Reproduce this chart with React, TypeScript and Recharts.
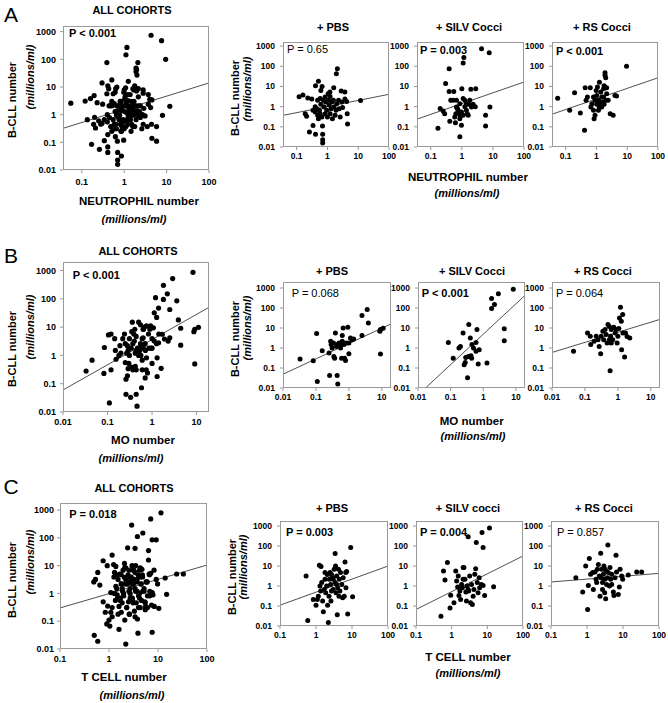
import { ScatterChart, Scatter, XAxis, YAxis, ReferenceLine } from 'recharts';

type Pt = [number, number];

const FONT = '"Liberation Sans", Arial, Helvetica, sans-serif';

const yTicks = [0.01, 0.1, 1, 10, 100, 1000];
const neutTicks = [0.1, 1, 10, 100];
const moTicks = [0.01, 0.1, 1, 10];
const tcellTicks = [0.1, 1, 10, 100];

// A: neutrophils
const neutPbs: Pt[] = [
  [0.12, 3.1], [0.16, 3.8], [0.23, 2.7], [0.31, 2.4], [0.19, 0.45], [0.21, 0.33], [0.26, 0.056], [0.34, 0.115],
  [0.41, 0.043], [0.51, 18], [0.41, 11], [0.61, 6.4], [0.67, 10], [0.69, 0.11], [0.7, 0.043], [0.7, 0.023],
  [0.7, 0.016], [2.1, 76], [1.95, 43], [1.6, 8.7], [1.2, 5.3], [1.05, 4.4], [2.8, 6], [3.7, 5.3], [3.7, 2.4],
  [4.2, 1.8], [4.4, 0.45], [4.5, 0.14], [11.9, 2.0], [0.4, 0.55], [0.45, 0.79], [0.48, 0.37], [0.51, 0.25],
  [0.55, 0.66], [0.58, 0.45], [0.61, 1.3], [0.66, 0.31], [0.74, 2.1], [0.78, 0.96], [0.84, 0.45], [0.88, 1.7],
  [0.95, 0.66], [1.0, 0.31], [1.08, 2.1], [1.13, 1.2], [1.22, 0.45], [1.31, 0.79], [1.38, 1.7], [1.45, 0.25],
  [1.56, 2.1], [1.64, 0.96], [1.77, 0.37], [1.9, 0.66], [2.0, 1.4], [2.3, 2.1], [2.4, 0.79], [2.6, 0.31],
  [2.9, 1.7], [3.1, 0.9], [0.48, 2.1], [0.58, 2.5], [0.84, 3.0], [1.22, 3.2], [0.4, 1.0], [0.34, 0.66],
];
const neutSilv: Pt[] = [
  [0.17, 0.085], [0.2, 0.8], [0.25, 0.6], [0.28, 0.45], [0.3, 14], [0.39, 76], [0.39, 5.7], [0.55, 5.7],
  [0.41, 0.19], [0.44, 2.1], [0.52, 2.1], [0.59, 0.31], [0.62, 0.16], [0.67, 2.1], [0.82, 0.45], [0.86, 0.032],
  [0.9, 0.33], [0.97, 0.12], [1.0, 7.8], [1.1, 2.5], [1.16, 270], [1.1, 145], [1.25, 1.0], [1.4, 0.66],
  [1.6, 0.37], [1.7, 1.3], [1.95, 7.2], [2.8, 7.8], [2.05, 0.96], [2.3, 1.3], [2.7, 1.0], [4.3, 740],
  [7.6, 470], [5.8, 0.37], [5.8, 0.11], [8.0, 0.95], [0.67, 0.96], [0.76, 0.66], [0.86, 1.4], [0.97, 0.55],
  [1.1, 0.37], [1.25, 2.1], [1.4, 1.3], [0.86, 0.25], [1.5, 0.45], [0.64, 0.45], [0.72, 0.8], [1.8, 2.1],
];
const neutRs: Pt[] = [
  [0.055, 2.6], [0.135, 0.66], [0.195, 4.9], [0.3, 0.49], [0.41, 0.068], [0.43, 8.7], [0.46, 2.1], [0.51, 3.0],
  [0.63, 8.7], [0.66, 0.96], [0.71, 1.4], [0.8, 0.66], [0.84, 0.25], [0.9, 0.37], [0.98, 6.4], [1.02, 3.6],
  [1.08, 9.4], [1.16, 2.1], [1.25, 16], [1.3, 1.04], [1.38, 5.3], [1.49, 3.0], [1.6, 1.7], [1.7, 7.8],
  [1.77, 11], [1.9, 36], [2.0, 27], [1.9, 48], [2.15, 4.4], [2.4, 2.1], [2.8, 0.45], [3.5, 0.37], [4.0, 3.6],
  [4.5, 3.4], [9.5, 100], [0.8, 3.0], [0.9, 2.1], [1.16, 0.66], [1.3, 1.7], [1.49, 0.96], [2.05, 2.1],
  [1.77, 1.3], [2.15, 8.7], [1.7, 3.0], [1.25, 0.9], [1.02, 1.3],
];

// B: monocytes
const moPbs: Pt[] = [
  [0.033, 0.28], [0.083, 0.23], [0.105, 5.3], [0.11, 0.021], [0.155, 0.73], [0.25, 0.56], [0.26, 0.042],
  [0.28, 2.2], [0.29, 1.5], [0.31, 1.0], [0.34, 1.8], [0.35, 0.38], [0.37, 0.31], [0.39, 5.7], [0.42, 1.2],
  [0.44, 0.042], [0.46, 0.016], [0.5, 1.8], [0.53, 1.5], [0.56, 1.0], [0.6, 0.31], [0.63, 4.2], [0.67, 10],
  [0.71, 1.5], [0.74, 0.31], [0.79, 0.24], [0.85, 1.8], [0.93, 11], [1.0, 0.52], [1.12, 3.2], [1.26, 2.6],
  [1.4, 2.8], [1.0, 1.8], [2.5, 4.2], [2.5, 42], [3.6, 85], [3.9, 18], [9.1, 8.4], [11, 9.8], [9.1, 0.5],
  [8.7, 6.9], [0.63, 2.2], [0.44, 1.5],
];
const moSilv: Pt[] = [
  [0.085, 1.9], [0.12, 0.31], [0.18, 1.0], [0.2, 1.2], [0.24, 5.7], [0.26, 0.145], [0.28, 0.19], [0.29, 0.34],
  [0.33, 0.033], [0.36, 15], [0.35, 0.38], [0.4, 3.2], [0.42, 0.41], [0.44, 0.31], [0.45, 1.5], [0.5, 1.0],
  [0.6, 1.9], [0.64, 8.4], [0.7, 0.16], [0.75, 0.82], [0.6, 0.68], [1.3, 0.18], [1.8, 95], [1.8, 300],
  [2.2, 150], [2.9, 520], [8.3, 860], [4.4, 9.1], [4.4, 2.3],
];
const moRs: Pt[] = [
  [0.045, 0.68], [0.12, 5.7], [0.145, 3.9], [0.15, 1.5], [0.19, 2.2], [0.22, 3.9], [0.25, 2.6], [0.27, 1.2],
  [0.3, 0.52], [0.31, 3.9], [0.35, 6.9], [0.37, 2.6], [0.41, 8.4], [0.44, 4.7], [0.47, 1.8], [0.5, 15],
  [0.55, 12], [0.6, 3.9], [0.63, 8.4], [0.7, 2.6], [0.75, 11], [0.58, 0.072], [0.83, 5.7], [0.89, 8.4],
  [0.95, 1.8], [1.0, 3.9], [1.07, 9.4], [1.12, 32], [1.2, 110], [1.27, 22], [1.4, 47], [1.42, 5.7],
  [1.3, 0.82], [1.6, 0.35], [1.7, 5.6], [1.9, 3.8], [2.3, 3.2], [0.63, 1.8], [0.55, 2.6],
];

// C: T cells
const tcPbs: Pt[] = [
  [0.59, 0.019], [0.53, 3.2], [0.84, 0.21], [1.0, 0.11], [1.09, 0.21], [1.16, 0.31], [1.24, 11], [1.38, 9.4],
  [1.29, 1.0], [1.35, 0.56], [1.44, 1.5], [1.53, 0.18], [1.6, 0.051], [1.7, 0.68], [1.78, 2.2], [1.86, 0.46],
  [1.98, 1.0], [2.06, 3.8], [2.1, 0.11], [2.2, 0.015], [2.3, 0.31], [2.35, 2.2], [2.45, 4.7], [2.55, 1.2],
  [2.6, 0.18], [2.7, 0.56], [2.9, 2.6], [3.0, 0.68], [3.2, 6.9], [3.4, 42], [3.4, 1.5], [3.5, 10], [3.6, 0.46],
  [3.75, 3.2], [3.9, 0.037], [4.0, 0.82], [4.2, 6.9], [4.35, 0.31], [4.45, 2.2], [4.6, 0.56], [4.8, 4.7],
  [5.2, 1.2], [5.5, 0.26], [5.7, 2.6], [6.1, 0.31], [6.4, 16], [6.7, 4.7], [6.8, 0.82], [7.1, 5.3],
  [7.6, 0.04], [9.2, 85], [10.4, 0.29], [1.78, 4.7], [2.7, 3.8], [3.75, 1.2], [3.0, 2.2],
];
const tcSilv: Pt[] = [
  [0.5, 0.031], [0.59, 5.7], [0.65, 2.0], [0.76, 15], [0.9, 0.08], [0.94, 0.35], [1.16, 0.145], [1.3, 5.7],
  [1.38, 1.8], [1.47, 0.89], [1.6, 0.34], [1.7, 0.56], [1.78, 0.21], [1.9, 1.2], [2.0, 0.82], [2.1, 8.4],
  [2.2, 8.4], [2.35, 2.2], [2.5, 0.5], [2.6, 0.18], [2.7, 1.0], [2.9, 290], [3.0, 0.56], [3.2, 3.2],
  [3.4, 0.145], [3.6, 1.2], [3.8, 0.12], [4.0, 0.31], [4.2, 0.68], [4.45, 3.9], [4.7, 7.4], [4.9, 150],
  [5.2, 1.5], [5.5, 0.46], [5.9, 2.6], [6.1, 0.82], [6.8, 1.2], [7.1, 480], [7.6, 85], [7.6, 1.07],
  [8.4, 0.34], [11.5, 800], [15, 0.93], [1.53, 3.2], [2.1, 2.2], [2.9, 0.68],
];
const tcRs: Pt[] = [
  [0.49, 2.6], [0.76, 0.5], [0.92, 10], [1.04, 0.067], [1.09, 1.07], [1.16, 24], [1.26, 3.9], [1.44, 4.7],
  [1.5, 0.68], [1.67, 5.0], [1.78, 2.2], [1.94, 6.9], [2.07, 12], [2.3, 0.31], [2.4, 44], [2.45, 2.6],
  [2.55, 6.9], [2.7, 1.5], [2.7, 0.68], [2.85, 3.9], [2.95, 10], [3.1, 0.46], [3.15, 2.2], [3.3, 0.23],
  [3.4, 5.7], [3.5, 1.2], [3.7, 2.6], [3.8, 112], [3.9, 4.7], [4.2, 1.0], [4.35, 8.4], [4.55, 2.2],
  [4.85, 3.9], [5.4, 0.5], [5.6, 0.34], [6.0, 2.6], [6.4, 35], [6.6, 5.0], [7.4, 0.38], [7.9, 0.89],
  [8.3, 6.9], [9.2, 3.2], [9.8, 2.2], [14, 3.6], [24, 5.0], [33, 5.0], [1.86, 1.5], [2.2, 3.2], [3.15, 6.9],
  [4.85, 1.2],
];

// regression line end points
const neutAllFit: Pt[] = [[0.036, 0.32], [100, 14]];
const neutPbsFit: Pt[] = [[0.036, 0.37], [100, 4.1]];
const neutSilvFit: Pt[] = [[0.036, 0.24], [100, 16.6]];
const neutRsFit: Pt[] = [[0.036, 0.42], [100, 27]];
const moAllFit: Pt[] = [[0.01, 0.06], [19, 50]];
const moPbsFit: Pt[] = [[0.01, 0.049], [19, 16]];
const moSilvFit: Pt[] = [[0.017, 0.01], [19, 430]];
const moRsFit: Pt[] = [[0.01, 0.6], [19, 27]];
const tcAllFit: Pt[] = [[0.1, 0.3], [100, 10.5]];
const tcPbsFit: Pt[] = [[0.1, 0.11], [100, 10]];
const tcSilvFit: Pt[] = [[0.1, 0.067], [100, 32]];
const tcRsFit: Pt[] = [[0.1, 1.6], [100, 4.3]];

const fmt = (v: number) => String(v);

type PlotProps = {
  box: [number, number, number, number];
  xDomain: [number, number];
  yMax: number;
  xTicks: number[];
  pts: Pt[];
  fit: Pt[];
  yGap: number;
  xGap: number;
  big?: boolean;
};

function Plot({ box, xDomain, yMax, xTicks, pts, fit, yGap, xGap, big = false }: PlotProps) {
  const yw = 44;
  const m = 6;
  const mr = 16; // room for the last x tick label
  const xh = 26;
  const [x, y, w, h] = box;
  const data = pts.map(([a, b]) => ({ x: a, y: b }));
  const r = big ? 2.6 : 2.5;
  const tickStyle = {
    fontSize: big ? 9 : 8.5,
    fontWeight: 700,
    fill: '#000',
    fontFamily: FONT,
    style: { fontWeight: 700 },
  };
  return (
    <div style={{ position: 'absolute', left: x - yw, top: y - m }}>
      <ScatterChart width={yw + w + mr} height={m + h + xh} margin={{ top: m, right: mr, bottom: 0, left: 0 }}>
        <XAxis
          type="number"
          dataKey="x"
          scale="log"
          domain={xDomain}
          allowDataOverflow
          ticks={xTicks}
          interval={0}
          tickFormatter={fmt}
          axisLine={false}
          tickSize={3}
          tickMargin={xGap}
          tickLine={{ stroke: '#999' }}
          tick={tickStyle}
          height={xh}
        />
        <YAxis
          type="number"
          dataKey="y"
          scale="log"
          domain={[0.01, yMax]}
          allowDataOverflow
          ticks={yTicks}
          interval={0}
          tickFormatter={fmt}
          axisLine={false}
          tickSize={3}
          tickMargin={yGap}
          tickLine={{ stroke: '#999' }}
          tick={tickStyle}
          width={yw}
        />
        <ReferenceLine
          segment={[{ x: fit[0][0], y: fit[0][1] }, { x: fit[1][0], y: fit[1][1] }]}
          stroke="#222"
          strokeWidth={0.8}
          ifOverflow="visible"
        />
        <Scatter
          data={data}
          isAnimationActive={false}
          shape={(p: any) => <circle cx={p.cx} cy={p.cy} r={r} fill="#000" />}
        />
      </ScatterChart>
      <div style={{
        position: 'absolute',
        left: yw,
        top: m,
        width: w,
        height: h,
        border: '1px solid #9a9a9a',
        boxSizing: 'border-box',
        pointerEvents: 'none',
      }} />
    </div>
  );
}

type TxtProps = {
  x: number;
  y: number;
  text: string;
  size?: number;
  bold?: boolean;
  italic?: boolean;
  vertical?: boolean;
  left?: boolean;
};

function Txt({ x, y, text, size = 11, bold = true, italic = false, vertical = false, left = false }: TxtProps) {
  const transform = left
    ? 'translateY(-50%)'
    : vertical
      ? 'translate(-50%, -50%) rotate(-90deg)'
      : 'translate(-50%, -50%)';
  return (
    <div style={{
      position: 'absolute',
      left: x,
      top: y,
      transform,
      fontFamily: FONT,
      fontSize: size,
      fontWeight: bold ? 700 : 400,
      fontStyle: italic ? 'italic' : 'normal',
      whiteSpace: 'nowrap',
      lineHeight: 1,
      color: '#000',
    }}>
      {text}
    </div>
  );
}

function AxisTitles({ bx, by, mx, my, name, nx, ny, ix, iy }: {
  bx: number; by: number; mx: number; my: number; name: string; nx: number; ny: number; ix: number; iy: number;
}) {
  return (
    <>
      <Txt x={bx} y={by} text="B-CLL number" size={11} vertical />
      <Txt x={mx} y={my} text="(millions/ml)" size={11} vertical italic />
      <Txt x={nx} y={ny} text={name} size={11.5} />
      <Txt x={ix} y={iy} text="(millions/ml)" size={11} italic />
    </>
  );
}

export default function App() {
  const neutAll = [...neutPbs, ...neutSilv, ...neutRs];
  const moAll = [...moPbs, ...moSilv, ...moRs];
  const tcAll = [...tcPbs, ...tcSilv, ...tcRs];
  const nD: [number, number] = [0.036, 100];
  const mD: [number, number] = [0.01, 19];
  const tD: [number, number] = [0.1, 100];

  return (
    <div style={{ position: 'absolute', left: 0, top: 0, width: 668, height: 703, background: '#fff', overflow: 'hidden' }}>
      {/* Row A */}
      <Txt x={11} y={14} text="A" size={21} bold={false} />
      <Txt x={132} y={10} text="ALL COHORTS" size={11} />
      <Txt x={333} y={27} text="+ PBS" size={11} />
      <Txt x={469} y={27} text="+ SILV Cocci" size={11} />
      <Txt x={602} y={27} text="+ RS Cocci" size={11} />
      <Plot big box={[63, 26, 146, 144]} xDomain={nD} yMax={1600} xTicks={neutTicks} pts={neutAll} fit={neutAllFit} yGap={4} xGap={6} />
      <Plot box={[283, 42, 106, 105]} xDomain={nD} yMax={1600} xTicks={neutTicks} pts={neutPbs} fit={neutPbsFit} yGap={5} xGap={3} />
      <Plot box={[417, 42, 107, 105]} xDomain={nD} yMax={1600} xTicks={neutTicks} pts={neutSilv} fit={neutSilvFit} yGap={5} xGap={3} />
      <Plot box={[552, 42, 106, 105]} xDomain={nD} yMax={1600} xTicks={neutTicks} pts={neutRs} fit={neutRsFit} yGap={5} xGap={3} />
      <Txt x={69} y={32.5} text="P < 0.001" size={11} left />
      <Txt x={287} y={49} text="P = 0.65" size={11} bold={false} left />
      <Txt x={420} y={50} text="P = 0.003" size={11} left />
      <Txt x={556} y={51} text="P < 0.001" size={11} left />
      <AxisTitles bx={12} by={100} mx={30} my={77} name="NEUTROPHIL number" nx={139} ny={202} ix={134} iy={219} />
      <AxisTitles bx={235} by={98} mx={247} my={89} name="NEUTROPHIL number" nx={468} ny={178} ix={467} iy={193} />

      {/* Row B */}
      <Txt x={11} y={255} text="B" size={21} bold={false} />
      <Txt x={138} y={251} text="ALL COHORTS" size={11} />
      <Txt x={332} y={271} text="+ PBS" size={11} />
      <Txt x={472} y={271} text="+ SILV Cocci" size={11} />
      <Txt x={603} y={271} text="+ RS Cocci" size={11} />
      <Plot big box={[63, 262, 146, 150]} xDomain={mD} yMax={2000} xTicks={moTicks} pts={moAll} fit={moAllFit} yGap={4} xGap={4} />
      <Plot box={[283, 282, 108, 106]} xDomain={mD} yMax={2000} xTicks={moTicks} pts={moPbs} fit={moPbsFit} yGap={5} xGap={3} />
      <Plot box={[418, 282, 107, 106]} xDomain={mD} yMax={2000} xTicks={moTicks} pts={moSilv} fit={moSilvFit} yGap={5} xGap={3} />
      <Plot box={[552, 282, 108, 106]} xDomain={mD} yMax={2000} xTicks={moTicks} pts={moRs} fit={moRsFit} yGap={5} xGap={3} />
      <Txt x={72.7} y={275} text="P < 0.001" size={11} left />
      <Txt x={291.7} y={293.3} text="P = 0.068" size={11} bold={false} left />
      <Txt x={421.7} y={293.3} text="P < 0.001" size={11} left />
      <Txt x={556} y={293.3} text="P = 0.064" size={11} bold={false} left />
      <AxisTitles bx={12} by={349} mx={30} my={327} name="MO number" nx={143} ny={441} ix={131} iy={458} />
      <AxisTitles bx={235} by={339} mx={247} my={327.5} name="MO number" nx={471.7} ny={421.7} ix={473} iy={435.7} />

      {/* Row C */}
      <Txt x={11} y={486} text="C" size={21} bold={false} />
      <Txt x={134} y={488} text="ALL COHORTS" size={11} />
      <Txt x={332} y={508} text="+ PBS" size={11} />
      <Txt x={468} y={508} text="+ SILV cocci" size={11} />
      <Txt x={604} y={508} text="+ RS Cocci" size={11} />
      <Plot big box={[60, 503, 147, 146]} xDomain={tD} yMax={1800} xTicks={tcellTicks} pts={tcAll} fit={tcAllFit} yGap={3} xGap={4} />
      <Plot box={[280, 521, 108, 105]} xDomain={tD} yMax={1800} xTicks={tcellTicks} pts={tcPbs} fit={tcPbsFit} yGap={5} xGap={3} />
      <Plot box={[416, 521, 107, 105]} xDomain={tD} yMax={1800} xTicks={tcellTicks} pts={tcSilv} fit={tcSilvFit} yGap={5} xGap={3} />
      <Plot box={[551, 521, 108, 105]} xDomain={tD} yMax={1800} xTicks={tcellTicks} pts={tcRs} fit={tcRsFit} yGap={5} xGap={3} />
      <Txt x={69.3} y={514} text="P = 0.018" size={11} left />
      <Txt x={286} y={531.7} text="P = 0.003" size={11} left />
      <Txt x={420} y={531.7} text="P = 0.004" size={11} left />
      <Txt x={557} y={531.7} text="P = 0.857" size={11} bold={false} left />
      <AxisTitles bx={12} by={580} mx={30} my={562} name="T CELL number" nx={124} ny={678} ix={132} iy={695} />
      <AxisTitles bx={232} by={577} mx={243} my={567} name="T CELL number" nx={468} ny={658.3} ix={468} iy={673.3} />
    </div>
  );
}
